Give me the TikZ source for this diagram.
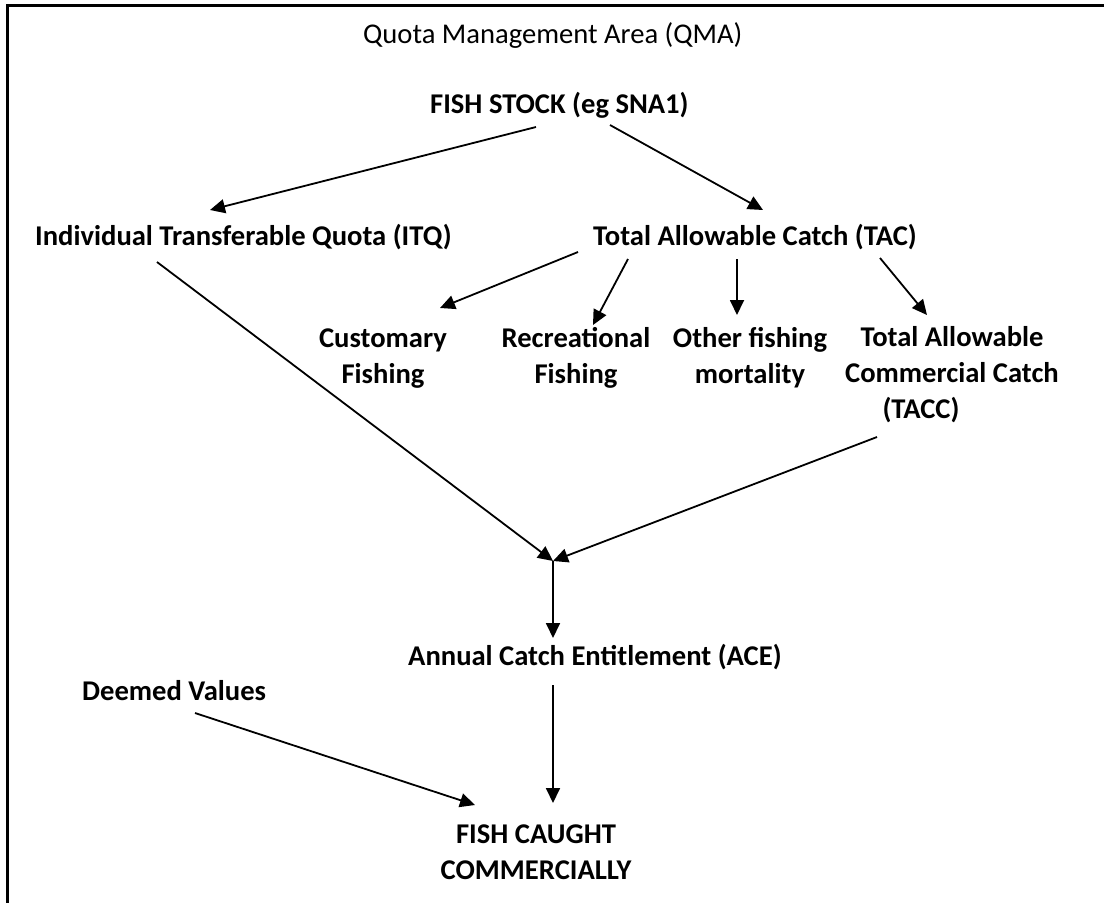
\documentclass[tikz,border=0pt]{standalone}
\usepackage{fontspec}
\setmainfont{Carlito}
\usetikzlibrary{
	positioning,
	arrows.meta
}

\tikzset{
	box/.style={font=\bfseries\fontsize{28.6}{36}\selectfont, inner sep=0pt, align=center},
	title/.style={font=\fontsize{28.6}{36}\selectfont, inner sep=0pt},
	arr/.style={-{Triangle[length=15pt,width=14pt]}, line width=1.8pt}
}

\begin{document}
\begin{tikzpicture}[x=1pt,y=-1pt]
		\useasboundingbox (0,0) rectangle (1104,903);
		\draw[line width=3pt] (7.5,903) -- (7.5,5.5) -- (1104,5.5);

		\draw
			node[title,anchor=base west] (qma)    at (363,43)  {Quota Management Area (QMA)}
			node[box,anchor=base west]   (stock)  at (430,113) {FISH STOCK (eg SNA1)}
			node[box,anchor=base west]   (itq)    at (35,245)  {Individual Transferable Quota (ITQ)}
			node[box,anchor=base west]   (tac)    at (593,245) {Total Allowable Catch (TAC)}
			node[box,anchor=base]        (cust)   at (383,383) {Customary\\Fishing}
			node[box,anchor=base]        (rec)    at (576,383) {Recreational\\Fishing}
			node[box,anchor=base]        (other)  at (750,383) {Other fishing\\mortality}
			node[box,anchor=base]        (tacc)   at (952,418) {Total Allowable\\Commercial Catch\\(TACC)\hspace*{62pt}}
			node[box,anchor=base west]   (ace)    at (408,665) {Annual Catch Entitlement (ACE)}
			node[box,anchor=base west]   (deemed) at (82,700)  {Deemed Values}
			node[box,anchor=base]        (caught) at (536,879) {FISH CAUGHT\\COMMERCIALLY}
		;

		\coordinate (j) at (553,561);

		\draw[arr] ([shift={(106,14)}]stock.base west) -- ([shift={(175,-35)}]itq.base west);
		\draw[arr] ([shift={(180,12)}]stock.base west) -- ([shift={(170,-35)}]tac.base west);
		\draw[arr] ([shift={(-15,7)}]tac.base west)    -- ([shift={(57,-75)}]cust.base);
		\draw[arr] ([shift={(35,14)}]tac.base west)    -- ([shift={(17,-58)}]rec.base);
		\draw[arr] ([shift={(144,14)}]tac.base west)   -- ([shift={(-13,-68)}]other.base);
		\draw[arr] ([shift={(287,13)}]tac.base west)   -- ([shift={(-25,-103)}]tacc.base);
		\draw[arr] ([shift={(122,17)}]itq.base west)   -- (j);
		\draw[arr] ([shift={(-75,19)}]tacc.base)       -- (j);
		\draw[arr] (j) -- ([shift={(145,-27)}]ace.base west);
		\draw[arr] ([shift={(145,20)}]ace.base west)   -- ([shift={(17,-76)}]caught.base);
		\draw[arr] ([shift={(113,13)}]deemed.base west) -- ([shift={(-61,-74)}]caught.base);
	\end{tikzpicture}
\end{document}
